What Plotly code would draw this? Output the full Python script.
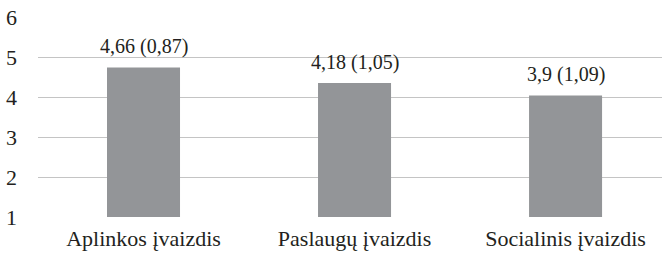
import plotly.graph_objects as go

categories = ["Aplinkos įvaizdis", "Paslaugų įvaizdis", "Socialinis įvaizdis"]
bar_values = [4.74, 4.35, 4.04]
bar_labels = ["4,66 (0,87)", "4,18 (1,05)", "3,9 (1,09)"]
y_ticks = [1, 2, 3, 4, 5, 6]

font_family = "Liberation Serif"
text_color = "#231f20"

fig = go.Figure()
fig.add_trace(go.Bar(
    x=categories, y=bar_values, base=0,
    marker=dict(color="#939598", line=dict(width=0)),
    width=0.346, hoverinfo="skip",
))
for c, v, t in zip(categories, bar_values, bar_labels):
    fig.add_annotation(x=c, y=v, text=t, showarrow=False, yanchor="bottom",
                       yshift=7, font=dict(family=font_family, size=20, color=text_color))

fig.update_layout(
    width=662, height=254,
    margin=dict(l=38, r=0, t=17, b=37, autoexpand=False),
    paper_bgcolor="white", plot_bgcolor="white",
    showlegend=False,
    font=dict(family=font_family, size=20, color=text_color),
    xaxis=dict(range=[-0.5, 2.457], showgrid=False, showline=False, ticks="",
               automargin=False, ticklabelstandoff=6,
               tickfont=dict(family=font_family, size=22, color=text_color)),
    yaxis=dict(range=[1, 6], tickvals=y_ticks, showgrid=True, gridcolor="#c4c4c4",
               gridwidth=1, zeroline=False, showline=False, ticks="",
               automargin=False, ticklabelstandoff=20,
               tickfont=dict(family=font_family, size=22, color=text_color)),
)
# remove the browser's default 8px body margin so the figure fills the window
fig.write_html("out.html", config={"displayModeBar": False},
               post_script="document.body.style.margin='0';")
